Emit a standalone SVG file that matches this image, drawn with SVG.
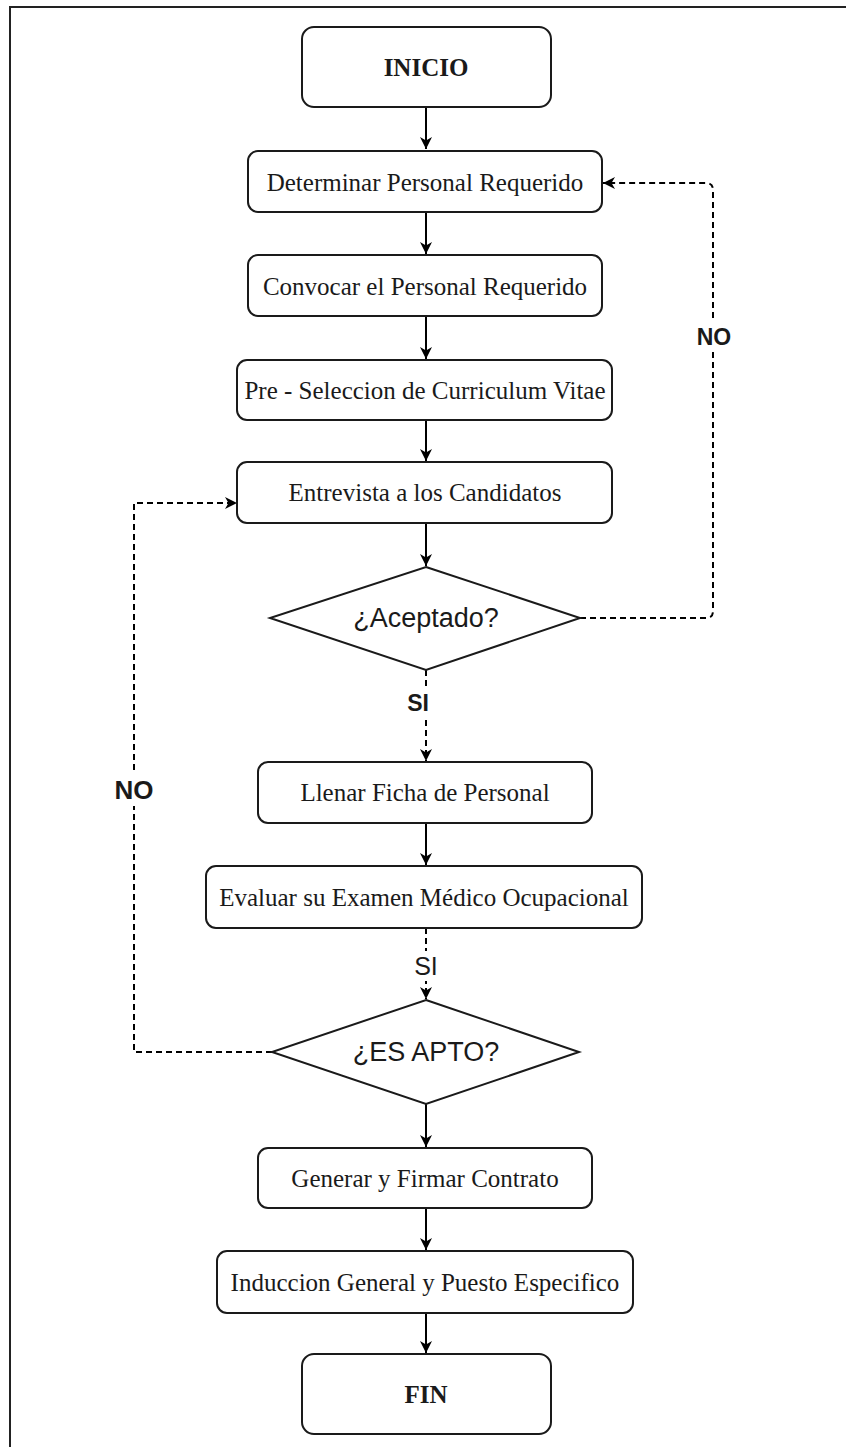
<svg xmlns="http://www.w3.org/2000/svg" width="846" height="1447" viewBox="0 0 846 1447">
  <style>
    .box { fill: #ffffff; stroke: #1a1a1a; stroke-width: 2; }
    .txt { font-family: "Liberation Serif", "Times New Roman", serif; font-size: 25px; fill: #1a1a1a; text-anchor: middle; dominant-baseline: central; }
    .bold { font-weight: bold; }
    .sans { font-family: "Liberation Sans", Arial, sans-serif; font-size: 27px; fill: #1a1a1a; text-anchor: middle; dominant-baseline: central; }
    .lbl { font-family: "Liberation Sans", Arial, sans-serif; font-size: 23px; font-weight: bold; fill: #1a1a1a; text-anchor: middle; dominant-baseline: central; }
    .lbl2 { font-family: "Liberation Sans", Arial, sans-serif; font-size: 25px; fill: #1a1a1a; text-anchor: middle; dominant-baseline: central; }
    .edge { fill: none; stroke: #000000; stroke-width: 2; }
    .dash { stroke-dasharray: 6 4; }
    .frame { fill: none; stroke: #222222; stroke-width: 2; }
  </style>
  <defs>
    <marker id="arrow" markerUnits="userSpaceOnUse" markerWidth="14" markerHeight="14" refX="12" refY="7" orient="auto">
      <path d="M0,1 L12,7 L0,13 L3.5,7 Z" fill="#000000"/>
    </marker>
  </defs>

  <rect width="846" height="1447" fill="#ffffff"/>
  <!-- page frame -->
  <path class="frame" d="M10,1447 L10,7 L846,7"/>

  <!-- connectors -->
  <g id="connectors">
    <path class="edge" d="M426,107 L426,149" marker-end="url(#arrow)"/>
    <path class="edge" d="M426,212 L426,254" marker-end="url(#arrow)"/>
    <path class="edge" d="M426,316 L426,359" marker-end="url(#arrow)"/>
    <path class="edge" d="M426,420 L426,461" marker-end="url(#arrow)"/>
    <path class="edge" d="M426,523 L426,566" marker-end="url(#arrow)"/>
    <path class="edge dash" d="M426,670 L426,761" marker-end="url(#arrow)"/>
    <path class="edge" d="M426,823 L426,865" marker-end="url(#arrow)"/>
    <path class="edge dash" d="M426,928 L426,999" marker-end="url(#arrow)"/>
    <path class="edge" d="M426,1104 L426,1147" marker-end="url(#arrow)"/>
    <path class="edge" d="M426,1208 L426,1250" marker-end="url(#arrow)"/>
    <path class="edge" d="M426,1313 L426,1353" marker-end="url(#arrow)"/>
    <!-- NO: back to Determinar -->
    <path class="edge dash" d="M580,618 L706,618 Q713,618 713,611 L713,190 Q713,183 706,183 L603,183" marker-end="url(#arrow)"/>
    <!-- NO: back to Entrevista -->
    <path class="edge dash" d="M272,1052 L134,1052 L134,503 L237,503" marker-end="url(#arrow)"/>
    <!-- labels -->
    <rect x="694" y="322" width="40" height="30" fill="#ffffff"/>
    <text class="lbl" x="714" y="337">NO</text>
    <rect x="110" y="774" width="48" height="32" fill="#ffffff"/>
    <text class="lbl" x="134" y="790" style="font-size:26px">NO</text>
    <rect x="402" y="689" width="32" height="28" fill="#ffffff"/>
    <text class="lbl" x="418" y="703">SI</text>
    <rect x="410" y="951" width="32" height="30" fill="#ffffff"/>
    <text class="lbl2" x="426" y="966">SI</text>
  </g>

  <g id="inicio">
    <rect class="box" x="302" y="27" width="249" height="80" rx="12"/>
    <text class="txt bold" x="426" y="67">INICIO</text>
  </g>
  <g id="determinar">
    <rect class="box" x="248" y="151" width="354" height="61" rx="10"/>
    <text class="txt" x="425" y="182">Determinar Personal Requerido</text>
  </g>
  <g id="convocar">
    <rect class="box" x="248" y="255" width="354" height="61" rx="10"/>
    <text class="txt" x="425" y="286">Convocar el Personal Requerido</text>
  </g>
  <g id="preseleccion">
    <rect class="box" x="237" y="360" width="375" height="60" rx="10"/>
    <text class="txt" x="425" y="390">Pre - Seleccion de Curriculum Vitae</text>
  </g>
  <g id="entrevista">
    <rect class="box" x="237" y="462" width="375" height="61" rx="10"/>
    <text class="txt" x="425" y="492">Entrevista a los Candidatos</text>
  </g>
  <g id="aceptado">
    <polygon class="box" points="426,567 580,618 426,670 270,618"/>
    <text class="sans" x="426" y="618">¿Aceptado?</text>
  </g>
  <g id="llenar">
    <rect class="box" x="258" y="762" width="334" height="61" rx="10"/>
    <text class="txt" x="425" y="792">Llenar Ficha de Personal</text>
  </g>
  <g id="evaluar">
    <rect class="box" x="206" y="866" width="436" height="62" rx="10"/>
    <text class="txt" x="424" y="897">Evaluar su Examen Médico Ocupacional</text>
  </g>
  <g id="apto">
    <polygon class="box" points="426,1000 579,1052 426,1104 272,1052"/>
    <text class="sans" x="426" y="1052">¿ES APTO?</text>
  </g>
  <g id="generar">
    <rect class="box" x="258" y="1148" width="334" height="60" rx="10"/>
    <text class="txt" x="425" y="1178">Generar y Firmar Contrato</text>
  </g>
  <g id="induccion">
    <rect class="box" x="217" y="1251" width="416" height="62" rx="10"/>
    <text class="txt" x="425" y="1282">Induccion General y Puesto Especifico</text>
  </g>
  <g id="fin">
    <rect class="box" x="302" y="1354" width="249" height="80" rx="12"/>
    <text class="txt bold" x="426" y="1394">FIN</text>
  </g>
</svg>
